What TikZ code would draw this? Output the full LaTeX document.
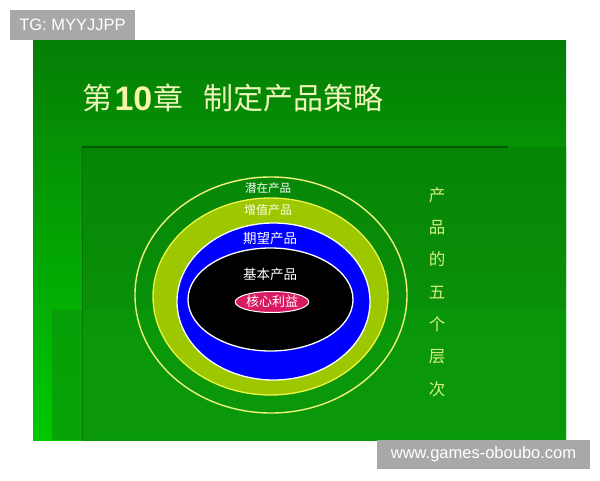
\documentclass[tikz,border=0pt]{standalone}
\usepackage{fontspec}
\setmainfont{Liberation Sans}
\newfontfamily\cjk{Noto Sans CJK SC}
\usetikzlibrary{shapes.geometric}
\definecolor{slidetop}{HTML}{067E06}
\definecolor{slidebot}{HTML}{00C800}
\definecolor{paneltop}{HTML}{078507}
\definecolor{panelbot}{HTML}{0B990B}
\definecolor{panellow}{HTML}{0A990A}
\definecolor{darkline}{HTML}{045A04}
\definecolor{wmgray}{HTML}{A8A8A8}
\definecolor{titlecol}{HTML}{EEF5B8}
\definecolor{digitcol}{HTML}{F4F7A8}
\definecolor{ygreen}{HTML}{9DC800}
\definecolor{outerline}{HTML}{EEF27A}
\definecolor{ringyellow}{HTML}{EEF545}
\definecolor{coremag}{HTML}{D81A62}
\definecolor{sidetext}{HTML}{D6F07E}
\tikzset{
  wmbox/.style={fill=wmgray, text=white, inner sep=0pt, font=\fontsize{16.5pt}{16.5pt}\selectfont},
  titletext/.style={text=titlecol, inner sep=0pt},
  ringlabel/.style={text=white, inner sep=0pt},
}
\begin{document}
\begin{tikzpicture}[x=1pt,y=-1pt]
\useasboundingbox (0,0) rectangle (600,480);
\fill[white] (0,0) rectangle (600,480);
% slide background
\shade[top color=slidetop, bottom color=slidebot] (33,40) rectangle (566,440);
\shade[top color=paneltop, bottom color=panelbot] (82,147) rectangle (566,440);
\fill[panellow, opacity=0.75] (52,310) rectangle (566,440);
\draw[darkline, opacity=0.45, line width=1pt] (82,148) -- (82,440);
\draw[darkline, line width=2pt] (82,147) -- (508,147);
% watermarks
\node[wmbox, minimum width=125pt, minimum height=30pt] (tg) at (72.5,25) {TG: MYYJJPP};
\node[wmbox, minimum width=213pt, minimum height=29pt] (www) at (483.5,454.5) {www.games-oboubo.com};
% title
\node[titletext] (t1) at (97.5,98) {\cjk\fontsize{30pt}{30pt}\selectfont 第};
\node[titletext, text=digitcol] (t2) at (133.5,99) {\bfseries\fontsize{34pt}{34pt}\selectfont 10};
\node[titletext] (t3) at (168.5,98) {\cjk\fontsize{30pt}{30pt}\selectfont 章};
\node[titletext, anchor=west] (t4) at (203,98) {\cjk\fontsize{30pt}{30pt}\selectfont 制定产品策略};
% rings
\draw[outerline, line width=1.4pt] (271,295) ellipse [x radius=136, y radius=118];
\filldraw[fill=ygreen, draw=ringyellow, line width=1.3pt] (270.5,296.5) ellipse [x radius=117.5, y radius=98.5];
\filldraw[fill=blue, draw=white, line width=1.3pt] (273.5,301.5) ellipse [x radius=96.5, y radius=78.5];
\filldraw[fill=black, draw=white, line width=1.3pt] (270.5,299.5) ellipse [x radius=82.5, y radius=51.5];
\node[ellipse, fill=coremag, draw=white, line width=1pt, minimum width=72pt, minimum height=21pt, inner sep=0pt, text=white] (core) at (272,302) {\cjk\fontsize{13pt}{13pt}\selectfont 核心利益};
\node[ringlabel] (l1) at (268,188) {\cjk\fontsize{11.5pt}{11.5pt}\selectfont 潜在产品};
\node[ringlabel, text=white!92!yellow] (l2) at (268,210) {\cjk\fontsize{12pt}{12pt}\selectfont 增值产品};
\node[ringlabel] (l3) at (270,238) {\cjk\fontsize{13.5pt}{13.5pt}\selectfont 期望产品};
\node[ringlabel] (l4) at (270,274) {\cjk\fontsize{13.5pt}{13.5pt}\selectfont 基本产品};
% side text
\node[text=sidetext, align=center, inner sep=0pt, font={\cjk\fontsize{16.5pt}{32.3pt}\selectfont}] (side) at (437,292) {产\\品\\的\\五\\个\\层\\次};
\end{tikzpicture}
\end{document}
